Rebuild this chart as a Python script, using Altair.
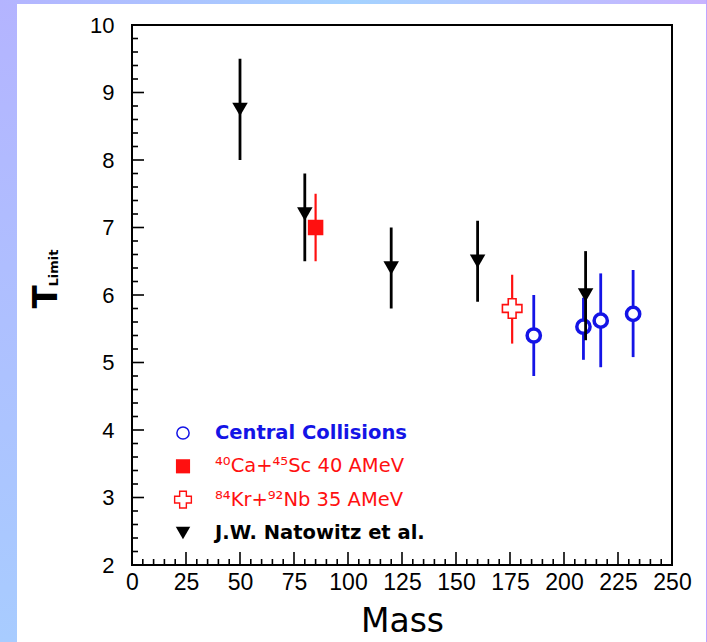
import altair as alt
import pandas as pd

# ---- data: limiting temperature vs. mass ----
central_mass = [186, 209, 217, 232]
central_t = [5.40, 5.53, 5.62, 5.72]
central_lo = [4.80, 5.04, 4.93, 5.08]
central_hi = [6.00, 5.96, 6.32, 6.37]

casc_mass = [85]
casc_t = [7.0]
casc_lo = [6.5]
casc_hi = [7.5]

krnb_mass = [176]
krnb_t = [5.8]
krnb_lo = [5.28]
krnb_hi = [6.3]

nat_mass = [50, 80, 120, 160, 210]
nat_t = [8.75, 7.2, 6.4, 6.5, 6.0]
nat_lo = [8.0, 6.5, 5.8, 5.9, 5.33]
nat_hi = [9.5, 7.8, 7.0, 7.1, 6.65]

legend_labels = [
    "Central Collisions",
    "\u2074\u2070Ca+\u2074\u2075Sc 40 AMeV",
    "\u2078\u2074Kr+\u2079\u00b2Nb 35 AMeV",
    "J.W. Natowitz et al.",
]

x_major = list(range(0, 251, 25))
x_minor = [v for v in range(0, 251, 5) if v % 25]
y_major = list(range(2, 11))
y_minor = [round(2 + 0.2 * i, 1) for i in range(41) if i % 5]

W, H = 540, 540
x_scale = alt.Scale(domain=[0, 250], nice=False, zero=False)
y_scale = alt.Scale(domain=[2, 10], nice=False, zero=False)

x_axis = alt.Axis(values=x_major, ticks=False, domain=False, grid=False,
                  labelFontSize=23, labelFont="Liberation Sans", labelColor="black",
                  labelPadding=6, labelFlush=False, labelOverlap=False,
                  title="Mass", titleFontSize=33, titleFont="DejaVu Sans",
                  titleFontWeight="normal", titleColor="black", titlePadding=11)
y_axis = alt.Axis(values=y_major, ticks=False, domain=False, grid=False,
                  labelFontSize=22, labelFont="Liberation Sans", labelColor="black",
                  labelPadding=18, labelFlush=False, labelOverlap=False, title=None)


def X(field):
    return alt.X(field, scale=x_scale, axis=x_axis)


def Y(field):
    return alt.Y(field, scale=y_scale, axis=y_axis)


series = [
    dict(mass=central_mass, t=central_t, lo=central_lo, hi=central_hi,
         color="#1414e6", shape="circle", filled=False, size=175, sw=3.5,
         bar=2.8, bold=True, lsize=150, lsw=1.5),
    dict(mass=casc_mass, t=casc_t, lo=casc_lo, hi=casc_hi,
         color="#ff1010", shape="square", filled=True, size=240, sw=1,
         bar=2.2, bold=False, lsize=200, lsw=1),
    dict(mass=krnb_mass, t=krnb_t, lo=krnb_lo, hi=krnb_hi,
         color="#ff1010", shape="cross", filled=False, size=380, sw=1.6,
         bar=2.2, bold=False, lsize=280, lsw=1.4),
    dict(mass=nat_mass, t=nat_t, lo=nat_lo, hi=nat_hi,
         color="black", shape="triangle-down", filled=True, size=240, sw=1,
         bar=2.8, bold=True, lsize=210, lsw=1),
]


def point_mark(s, size, sw):
    if s["filled"]:
        return alt.MarkDef(type="point", shape=s["shape"], size=size,
                           filled=True, color=s["color"], opacity=1)
    return alt.MarkDef(type="point", shape=s["shape"], size=size,
                       filled=False, fill="white", stroke=s["color"],
                       strokeWidth=sw, opacity=1, fillOpacity=1)


layers = []

# decorative border strips around the white page
left_grad = alt.LinearGradient(gradient="linear", x1=0, y1=0, x2=0, y2=1, stops=[
    alt.GradientStop(offset=0, color="#b4b4ff"),
    alt.GradientStop(offset=1, color="#a8ccff")])
top_grad = alt.LinearGradient(gradient="linear", x1=0, y1=0, x2=1, y2=0, stops=[
    alt.GradientStop(offset=0, color="#b4b4ff"),
    alt.GradientStop(offset=0.5, color="#a4d2ff"),
    alt.GradientStop(offset=1, color="#c8b4ff")])
strip = alt.Chart(pd.DataFrame({"k": [0]}))
layers.append(strip.mark_rect(color=left_grad).encode(
    x=alt.value(-132), x2=alt.value(-115), y=alt.value(-25), y2=alt.value(H + 77)))
layers.append(strip.mark_rect(color=top_grad).encode(
    x=alt.value(-132), x2=alt.value(W + 35), y=alt.value(-25), y2=alt.value(-21)))
layers.append(strip.mark_rect(color="#c0a4ff").encode(
    x=alt.value(W + 34), x2=alt.value(W + 35), y=alt.value(-25), y2=alt.value(H + 77)))


# inward-pointing tick marks
def xticks(vals, length):
    return alt.Chart(pd.DataFrame({"v": vals})).mark_rule(
        color="black", strokeWidth=1.6).encode(
        x=X("v:Q"), y=alt.value(H), y2=alt.value(H - length))


def yticks(vals, length):
    return alt.Chart(pd.DataFrame({"v": vals})).mark_rule(
        color="black", strokeWidth=1.6).encode(
        y=Y("v:Q"), x=alt.value(0), x2=alt.value(length))


layers += [xticks(x_major, 13), xticks(x_minor, 6),
           yticks(y_major, 12), yticks(y_minor, 6)]

# error bars and markers
for s in series:
    df = pd.DataFrame({"mass": s["mass"], "t": s["t"], "lo": s["lo"], "hi": s["hi"]})
    layers.append(alt.Chart(df).mark_rule(color=s["color"], strokeWidth=s["bar"]).encode(
        x=X("mass:Q"), y=Y("lo:Q"), y2="hi:Q"))
    layers.append(alt.Chart(df, mark=point_mark(s, s["size"], s["sw"])).encode(
        x=X("mass:Q"), y=Y("t:Q")))

# legend drawn inside the frame
for i, (s, label) in enumerate(zip(series, legend_labels)):
    ypix = 408 + 33.3 * i
    ldf = pd.DataFrame({"label": [label]})
    layers.append(alt.Chart(ldf, mark=point_mark(s, s["lsize"], s["lsw"])).encode(
        x=alt.value(51), y=alt.value(ypix)))
    layers.append(alt.Chart(ldf).mark_text(
        align="left", baseline="middle", font="DejaVu Sans", fontSize=19.5,
        fontWeight="bold" if s["bold"] else "normal", color=s["color"]).encode(
        text="label:N", x=alt.value(83), y=alt.value(ypix)))

# y-axis title: T with subscript "Limit"
title_df = pd.DataFrame({"main": ["T"], "sub": ["Limit"]})
layers.append(alt.Chart(title_df).mark_text(
    angle=270, align="center", baseline="middle", font="DejaVu Sans",
    fontSize=34, fontWeight="bold", color="black").encode(
    text="main:N", x=alt.value(-85), y=alt.value(272)))
layers.append(alt.Chart(title_df).mark_text(
    angle=270, align="center", baseline="middle", font="DejaVu Sans",
    fontSize=13, fontWeight="bold", color="black").encode(
    text="sub:N", x=alt.value(-78), y=alt.value(243)))

chart = alt.layer(*layers).properties(
    width=W, height=H,
    autosize=alt.AutoSizeParams(type="none"),
    padding={"left": 132, "top": 25, "right": 35, "bottom": 77},
    background="white",
).configure_view(stroke="black", strokeWidth=2)

chart.save("out.html", embed_options={"renderer": "svg", "actions": False})
